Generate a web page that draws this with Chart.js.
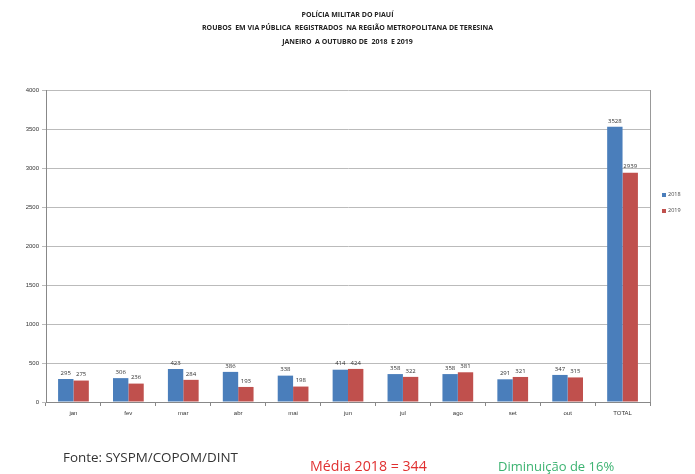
<!DOCTYPE html>
<html>
<head>
<meta charset="utf-8">
<script src="https://cdn.jsdelivr.net/npm/chart.js@4/dist/chart.umd.min.js"></script>
<style>
  body { margin: 0; background: #fff; }
  #wrap { position: relative; width: 695px; height: 474px; font-family: "Open Sans", "Liberation Sans", sans-serif; }
  #chart { position: absolute; left: 0; top: 0; }
  .title { position: absolute; left: 0; width: 695px; text-align: center; font-weight: bold; font-size: 7px; color: #222; }
  .foot { position: absolute; white-space: nowrap; }
  .leg { position: absolute; left: 662px; font-size: 5.5px; color: #444; }
  .leg span { display: inline-block; width: 4px; height: 4px; margin-right: 2px; vertical-align: middle; }
</style>
</head>
<body>
<div id="wrap">
  <canvas id="chart" width="695" height="474"></canvas>
  <div class="title" style="top:10px">POLÍCIA MILITAR DO PIAUÍ</div>
  <div class="title" style="top:23px">ROUBOS&nbsp; EM VIA PÚBLICA&nbsp; REGISTRADOS&nbsp; NA REGIÃO METROPOLITANA DE TERESINA</div>
  <div class="title" style="top:37px">JANEIRO&nbsp; A OUTUBRO DE&nbsp; 2018&nbsp; E 2019</div>
  <div class="leg" style="top:190px"><span style="background:#4a7ebb"></span>2018</div>
  <div class="leg" style="top:206px"><span style="background:#c0504d"></span>2019</div>
  <div class="foot" style="left:63px; top:448px; font-size:13.4px; color:#333">Fonte: SYSPM/COPOM/DINT</div>
  <div class="foot" style="left:310px; top:456px; font-size:14.2px; color:#e03030">Média 2018 = 344</div>
  <div class="foot" style="left:498px; top:457px; font-size:13px; color:#3cb371">Diminuição de 16%</div>
</div>
<script>
const categories = ['jan', 'fev', 'mar', 'abr', 'mai', 'jun', 'jul', 'ago', 'set', 'out', 'TOTAL'];
const values2018 = [295, 306, 423, 386, 338, 414, 358, 358, 291, 347, 3528];
const values2019 = [275, 236, 284, 193, 198, 424, 322, 381, 321, 315, 2939];
const yTicks = [0, 500, 1000, 1500, 2000, 2500, 3000, 3500, 4000];

// rótulos de valor acima das barras + borda direita da área
const barLabels = {
  id: 'barLabels',
  afterDatasetsDraw(chart) {
    const ctx = chart.ctx;
    ctx.save();
    ctx.font = '6px "Open Sans", sans-serif';
    ctx.fillStyle = '#333';
    ctx.textAlign = 'center';
    ctx.textBaseline = 'bottom';
    chart.data.datasets.forEach((ds, i) => {
      chart.getDatasetMeta(i).data.forEach((bar, j) => {
        ctx.fillText(ds.data[j], bar.x, bar.y - 3);
      });
    });
    const a = chart.chartArea;
    ctx.strokeStyle = '#999';
    ctx.lineWidth = 1;
    ctx.beginPath();
    ctx.moveTo(a.right + 0.5, a.top);
    ctx.lineTo(a.right + 0.5, a.bottom);
    ctx.stroke();
    ctx.restore();
  }
};

new Chart(document.getElementById('chart'), {
  type: 'bar',
  data: {
    labels: categories,
    datasets: [
      { label: '2018', data: values2018, backgroundColor: '#4a7ebb' },
      { label: '2019', data: values2019, backgroundColor: '#c0504d' }
    ]
  },
  options: {
    responsive: false,
    animation: false,
    layout: { padding: { top: 90, right: 45, bottom: 52, left: 0 } },
    datasets: { bar: { categoryPercentage: 0.56, barPercentage: 1 } },
    plugins: { legend: { display: false }, tooltip: { enabled: false } },
    scales: {
      x: {
        afterFit: s => { s.height = 20; },
        grid: { offset: true, drawOnChartArea: false, tickLength: 4, color: '#888' },
        border: { color: '#888' },
        ticks: { font: { size: 6 }, color: '#333', padding: 4 }
      },
      y: {
        min: 0,
        max: 4000,
        afterFit: s => { s.width = 46; },
        afterBuildTicks: s => { s.ticks = yTicks.map(v => ({ value: v })); },
        grid: { color: '#bbb', tickLength: 4 },
        border: { color: '#888' },
        ticks: { font: { size: 6 }, color: '#333', padding: 3, callback: v => String(v) }
      }
    }
  },
  plugins: [barLabels]
});
</script>
</body>
</html>
